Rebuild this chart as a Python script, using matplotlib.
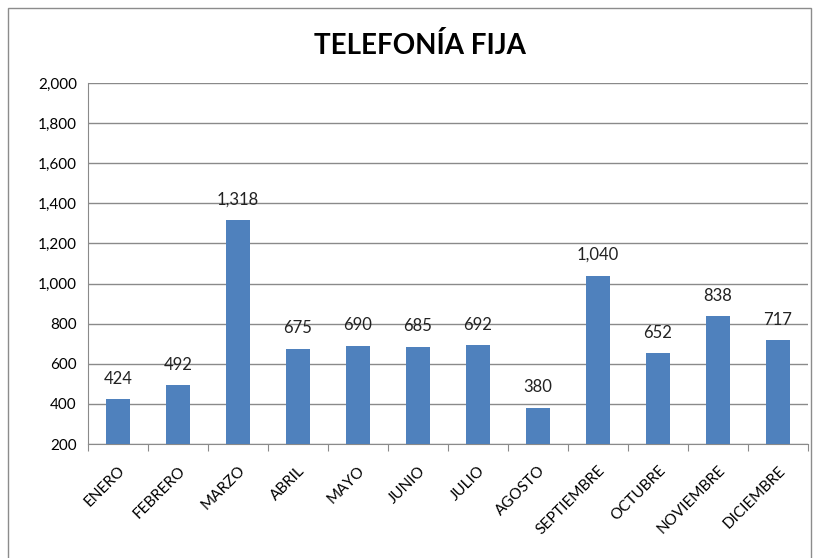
import matplotlib
matplotlib.use("Agg")
import matplotlib.pyplot as plt
from matplotlib.patches import Rectangle

months = ["ENERO", "FEBRERO", "MARZO", "ABRIL", "MAYO", "JUNIO", "JULIO",
          "AGOSTO", "SEPTIEMBRE", "OCTUBRE", "NOVIEMBRE", "DICIEMBRE"]
values = [424, 492, 1318, 675, 690, 685, 692, 380, 1040, 652, 838, 717]
yticks = [200, 400, 600, 800, 1000, 1200, 1400, 1600, 1800, 2000]
title = "TELEFONÍA FIJA"

plt.rcParams['font.family'] = ['Lato', 'DejaVu Sans']

fig = plt.figure(figsize=(8.14, 5.58), dpi=100)
fig.patches.append(Rectangle((8/814, -10/558), 803/814, 560/558, transform=fig.transFigure,
                             fill=False, edgecolor="#8c8c8c", linewidth=1.0))
ax = fig.add_axes([88/814, 1-444/558, 720/814, 361/558])

x = list(range(len(months)))
ax.bar(x, [v - 200 for v in values], bottom=200, width=0.4, color="#4F81BD", zorder=3)
for xi, v in zip(x, values):
    ax.annotate(f"{v:,}", (xi, v), xytext=(0, 9), textcoords="offset points",
                ha="center", va="bottom", fontsize=12, color="#222222")

ax.set_ylim(200, 2000)
ax.set_xlim(-0.5, len(months) - 0.5)
ax.set_yticks(yticks)
ax.set_yticklabels([f"{t:,}" for t in yticks], fontsize=11)
ax.yaxis.grid(True, color="#8a8a8a", linewidth=1.0, zorder=0)
ax.tick_params(axis="y", length=0, pad=8)

ax.set_xticks([i - 0.5 for i in range(len(months) + 1)], minor=False)
ax.set_xticklabels([])
ax.set_xticks(x, minor=True)
ax.set_xticklabels(months, minor=True, rotation=45, ha="right", rotation_mode="anchor", fontsize=11)
ax.tick_params(axis="x", which="major", length=5, color="#8a8a8a", direction="out")
ax.tick_params(axis="x", which="minor", length=0, pad=14)

for s in ["top", "right"]:
    ax.spines[s].set_visible(False)
ax.spines["left"].set_color("#8a8a8a")
ax.spines["bottom"].set_color("#8a8a8a")

fig.text(420/814, 1-45/558, title, ha="center", va="center", fontsize=20, fontweight="bold")

fig.savefig("out.png", dpi=100)
